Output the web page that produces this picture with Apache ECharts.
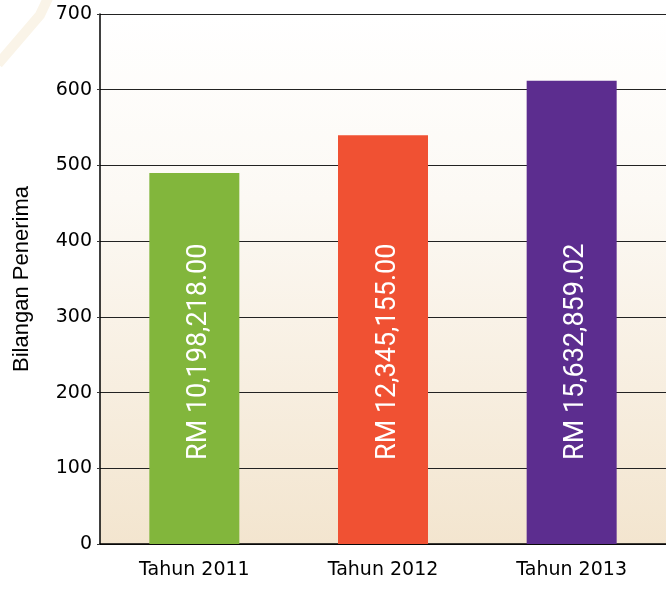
<!DOCTYPE html>
<html>
<head>
<meta charset="utf-8">
<script src="https://cdn.jsdelivr.net/npm/echarts@6/dist/echarts.min.js"></script>
<style>
html,body{margin:0;padding:0;background:#fff;}
#c{width:666px;height:589px;}
</style>
</head>
<body>
<div id="c"></div>
<script>
const categories = ['Tahun 2011', 'Tahun 2012', 'Tahun 2013'];
const recipients = [490, 540, 612];
const amountLabels = ['RM 10,198,218.00', 'RM 12,345,155.00', 'RM 15,632,859.02'];
const barColors = ['#82b63c', '#f05133', '#5c2d8f'];
const yTicks = {min: 0, max: 700, interval: 100};
const yName = 'Bilangan Penerima';

const chart = echarts.init(document.getElementById('c'), null, {renderer: 'canvas'});
chart.setOption({
  animation: false,
  backgroundColor: '#ffffff',
  graphic: [{
    type: 'polyline',
    z: -10,
    shape: {points: [[-2, 64], [40, 15], [48, -2]]},
    style: {stroke: '#faf4e8', lineWidth: 10, fill: null}
  }],
  grid: {
    left: 100, right: -1, top: 14, bottom: 45,
    show: true,
    borderWidth: 0,
    backgroundColor: {
      type: 'linear', x: 0, y: 0, x2: 0, y2: 1,
      colorStops: [{offset: 0, color: '#ffffff'}, {offset: 0.35, color: '#fcf9f4'}, {offset: 1, color: '#f3e5cf'}]
    }
  },
  xAxis: {
    type: 'category',
    data: categories,
    axisLine: {lineStyle: {color: '#000', width: 1.5}},
    axisTick: {inside: true, length: 13, lineStyle: {color: '#000', width: 1}},
    axisLabel: {color: '#000', fontSize: 19, fontFamily: 'DejaVu Sans', margin: 17}
  },
  yAxis: {
    type: 'value',
    min: yTicks.min, max: yTicks.max, interval: yTicks.interval,
    name: yName,
    nameLocation: 'middle',
    nameGap: 67,
    nameRotate: 90,
    nameTextStyle: {color: '#000', fontSize: 22, fontFamily: 'Liberation Sans'},
    axisLine: {show: true, lineStyle: {color: '#000', width: 1.5}},
    axisTick: {show: true, length: 3, lineStyle: {color: '#333'}},
    axisLabel: {color: '#000', fontSize: 19, fontFamily: 'DejaVu Sans', margin: 8},
    splitLine: {show: true, lineStyle: {color: '#222', width: 1.2}}
  },
  series: [{
    type: 'bar',
    barWidth: 90,
    data: recipients.map((v, i) => ({
      value: v,
      itemStyle: {color: barColors[i]},
      label: {formatter: amountLabels[i]}
    })),
    label: {
      show: true,
      position: 'insideBottom',
      distance: 87,
      rotate: 90,
      align: 'left',
      verticalAlign: 'middle',
      offset: [-3, 5],
      color: '#ffffff',
      fontSize: 27,
      fontFamily: 'Roboto'
    }
  }]
});
</script>
</body>
</html>
